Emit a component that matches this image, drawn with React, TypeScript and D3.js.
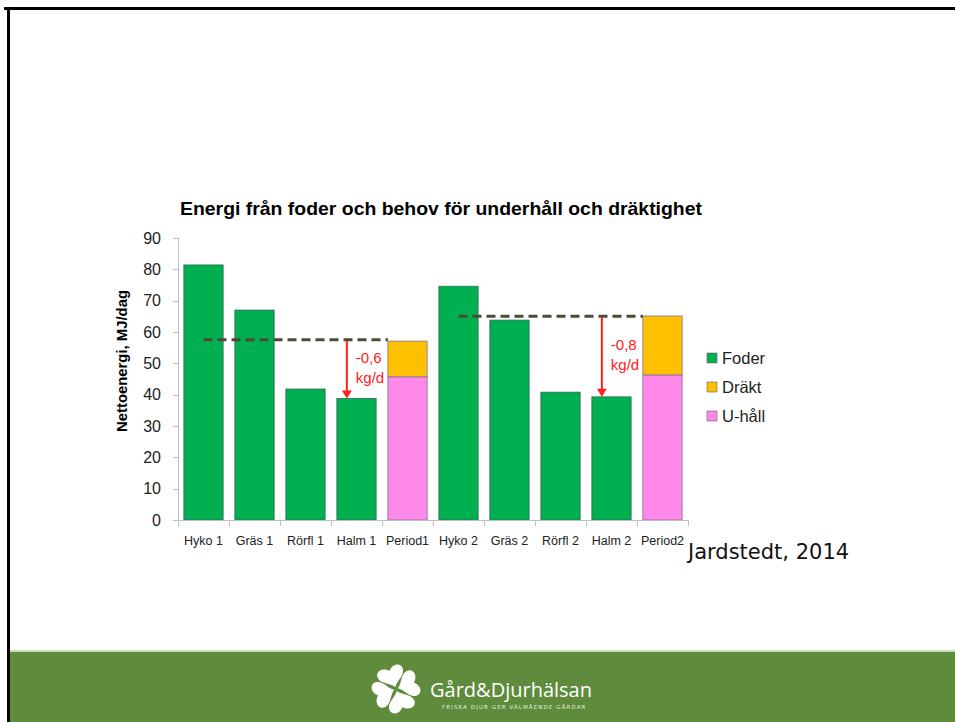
import React, { useEffect, useRef } from 'react';
import { select, scaleBand, scaleLinear, stack, range } from 'd3';

// Chart data
const categories = ['Hyko 1', 'Gräs 1', 'Rörfl 1', 'Halm 1', 'Period1', 'Hyko 2', 'Gräs 2', 'Rörfl 2', 'Halm 2', 'Period2'];
const foder = [81.4, 67, 41.8, 38.8, 0, 74.6, 63.8, 40.8, 39.3, 0];
const uhall = [0, 0, 0, 0, 45.7, 0, 0, 0, 0, 46.3];
const drakt = [0, 0, 0, 0, 11.4, 0, 0, 0, 0, 18.8];
const yTicks = [0, 10, 20, 30, 40, 50, 60, 70, 80, 90];

// requirement lines (from, to, level)
const needFrom = ['Hyko 1', 'Hyko 2'];
const needTo = ['Period1', 'Period2'];
const needLevel = [57.5, 65];
// weight loss arrows
const lossAt = ['Halm 1', 'Halm 2'];
const lossLabel = ['-0,6', '-0,8'];

const seriesKeys = ['foder', 'uhall', 'drakt'];
const seriesNames: Record<string, string> = { foder: 'Foder', drakt: 'Dräkt', uhall: 'U-håll' };
const colors: Record<string, string> = { foder: '#00b050', drakt: '#ffc000', uhall: '#ff88e8' };
const legendOrder = ['foder', 'drakt', 'uhall'];

const W = 955;
const H = 722;

const App = () => {
  const svgRef = useRef<SVGSVGElement>(null);

  useEffect(() => {
    const svg = select(svgRef.current);
    svg.selectAll('*').remove();

    const rows = categories.map((c, i) => ({ cat: c, foder: foder[i], uhall: uhall[i], drakt: drakt[i] }));
    const x = scaleBand().domain(categories).range([178, 688]).paddingInner(0.23).paddingOuter(0.115);
    const y = scaleLinear().domain([0, 90]).range([520, 238]);

    // slide frame
    svg.append('rect').attr('width', W).attr('height', H).attr('fill', '#fff');
    svg.append('rect').attr('x', 4).attr('y', 7).attr('width', W).attr('height', 3).attr('fill', '#000');
    svg.append('rect').attr('x', 7).attr('y', 7).attr('width', 3).attr('height', H).attr('fill', '#000');

    // footer
    svg.append('rect').attr('x', 10).attr('y', 650).attr('width', W).attr('height', 2).attr('fill', '#c9dcb6');
    svg.append('rect').attr('x', 10).attr('y', 652).attr('width', W).attr('height', H - 652).attr('fill', '#5f8b3d');
    const logo = svg.append('g').attr('transform', 'translate(396,689)').attr('fill', '#fff');
    const heart = 'M0,0 C-4,-6 -13,-8 -14,-15 C-15,-22 -6,-25 0,-18 C6,-25 15,-22 14,-15 C13,-8 4,-6 0,0 Z';
    [-20, 70, 160, 250].forEach((a) => {
      logo.append('path').attr('d', heart).attr('transform', `rotate(${a}) translate(0,-2) scale(0.95)`);
    });
    svg.append('text').attr('x', 430).attr('y', 697).attr('fill', '#fff')
      .attr('font-family', 'Open Sans, sans-serif').attr('font-size', 20).text('Gård&Djurhälsan');
    svg.append('text').attr('x', 442).attr('y', 709).attr('fill', '#e8f0de')
      .attr('font-family', 'DejaVu Sans, sans-serif').attr('font-size', 5.5).attr('letter-spacing', 1.1)
      .text('FRISKA DJUR GER VÄLMÅENDE GÅRDAR');

    // title
    svg.append('text').attr('x', 441).attr('y', 215).attr('text-anchor', 'middle')
      .attr('font-family', 'Liberation Sans, Arial, sans-serif').attr('font-weight', 'bold').attr('font-size', 19)
      .attr('textLength', 522).attr('lengthAdjust', 'spacingAndGlyphs')
      .text('Energi från foder och behov för underhåll och dräktighet');

    // y axis
    const axisColor = '#bfbfbf';
    svg.append('line').attr('x1', 178.5).attr('x2', 178.5).attr('y1', y(90)).attr('y2', y(0)).attr('stroke', axisColor);
    svg.selectAll('.ytick').data(yTicks).join('line').attr('class', 'ytick')
      .attr('x1', 173).attr('x2', 178.5).attr('y1', (d) => Math.round(y(d)) + 0.5).attr('y2', (d) => Math.round(y(d)) + 0.5)
      .attr('stroke', axisColor);
    svg.selectAll('.ylab').data(yTicks).join('text').attr('class', 'ylab')
      .attr('x', 161).attr('y', (d) => y(d) + 5.5).attr('text-anchor', 'end')
      .attr('font-family', 'Liberation Sans, Arial, sans-serif').attr('font-size', 16).attr('fill', '#222')
      .text((d) => d);
    svg.append('text').attr('transform', 'translate(127,361) rotate(-90)').attr('text-anchor', 'middle')
      .attr('font-family', 'Liberation Sans, Arial, sans-serif').attr('font-weight', 'bold').attr('font-size', 14)
      .attr('textLength', 142).attr('lengthAdjust', 'spacingAndGlyphs')
      .text('Nettoenergi, MJ/dag');

    // bars
    const stacked = stack<any>().keys(seriesKeys)(rows);
    stacked.forEach((s) => {
      svg.append('g').selectAll('rect').data(s.filter((d) => d[1] - d[0] > 0)).join('rect')
        .attr('x', (d) => x(d.data.cat)!)
        .attr('width', x.bandwidth())
        .attr('y', (d) => y(d[1]))
        .attr('height', (d) => y(d[0]) - y(d[1]))
        .attr('fill', colors[s.key])
        .attr('stroke', s.key === 'foder' ? '#2f6a5a' : '#7a6fa0')
        .attr('stroke-width', 0.8);
    });

    // x axis
    svg.append('line').attr('x1', 178).attr('x2', 689).attr('y1', 520.5).attr('y2', 520.5).attr('stroke', axisColor);
    const step = x.step();
    svg.selectAll('.xtick').data(range(categories.length + 1)).join('line').attr('class', 'xtick')
      .attr('x1', (i) => Math.round(178 + i * step) + 0.5).attr('x2', (i) => Math.round(178 + i * step) + 0.5)
      .attr('y1', 520).attr('y2', 526).attr('stroke', axisColor);
    svg.selectAll('.xlab').data(categories).join('text').attr('class', 'xlab')
      .attr('x', (d) => x(d)! + x.bandwidth() / 2).attr('y', 545).attr('text-anchor', 'middle')
      .attr('font-family', 'Liberation Sans, Arial, sans-serif').attr('font-size', 12.5).attr('fill', '#222')
      .text((d) => d);

    // requirement lines
    needLevel.forEach((lv, i) => {
      svg.append('line')
        .attr('x1', x(needFrom[i])! + x.bandwidth() / 2).attr('x2', x(needTo[i])!)
        .attr('y1', y(lv)).attr('y2', y(lv))
        .attr('stroke', '#4d4a36').attr('stroke-width', 3).attr('stroke-dasharray', '9,5');
    });

    // arrows
    lossAt.forEach((c, i) => {
      const ax = x(c)! + 10;
      const top = y(needLevel[i]) + 1;
      const bot = y(foder[categories.indexOf(c)]);
      svg.append('line').attr('x1', ax).attr('x2', ax).attr('y1', top).attr('y2', bot - 7)
        .attr('stroke', '#ff2020').attr('stroke-width', 2);
      svg.append('path').attr('d', `M${ax - 5},${bot - 8} L${ax + 5},${bot - 8} L${ax},${bot} Z`).attr('fill', '#ff2020');
      const ty = (top + bot) / 2 - 7;
      svg.append('text').attr('x', ax + 9).attr('y', ty).attr('fill', '#ff2020')
        .attr('font-family', 'Liberation Sans, Arial, sans-serif').attr('font-size', 15).text(lossLabel[i]);
      svg.append('text').attr('x', ax + 9).attr('y', ty + 20).attr('fill', '#ff2020')
        .attr('font-family', 'Liberation Sans, Arial, sans-serif').attr('font-size', 15).text('kg/d');
    });

    // legend
    legendOrder.forEach((k, i) => {
      const ly = 358 + i * 29;
      svg.append('rect').attr('x', 707).attr('y', ly - 5).attr('width', 10).attr('height', 10)
        .attr('fill', colors[k]).attr('stroke', '#666').attr('stroke-width', 0.6);
      svg.append('text').attr('x', 722).attr('y', ly + 6).attr('font-family', 'Liberation Sans, Arial, sans-serif')
        .attr('font-size', 16.5).attr('fill', '#222').text(seriesNames[k]);
    });

    // source
    svg.append('text').attr('x', 688).attr('y', 559).attr('font-family', 'DejaVu Sans, sans-serif')
      .attr('font-size', 21).attr('fill', '#111').text('Jardstedt, 2014');
  }, []);

  return (
    <div style={{ position: 'absolute', left: 0, top: 0 }}>
      <svg ref={svgRef} width={W} height={H} style={{ display: 'block' }} />
    </div>
  );
};

export default App;
